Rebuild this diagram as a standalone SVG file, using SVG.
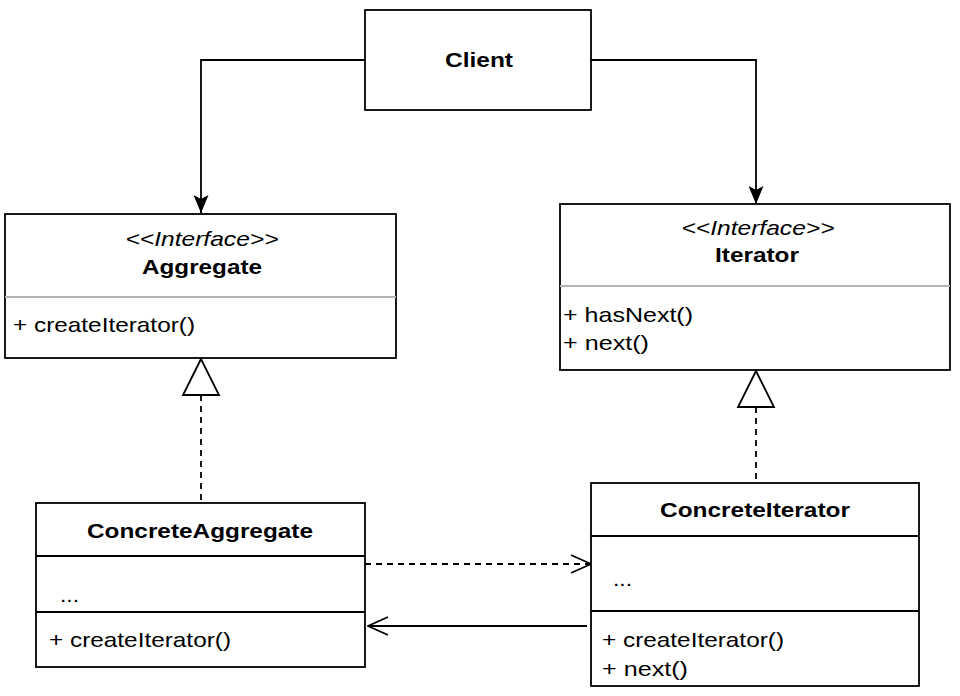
<svg xmlns="http://www.w3.org/2000/svg" width="960" height="696" viewBox="0 0 960 696">
<style>
.box{fill:#fff;stroke:#000;stroke-width:1.8}
.div{stroke:#000;stroke-width:1.8}
.gdiv{stroke:#b3b3b3;stroke-width:2}
text{font-family:"Liberation Sans",Arial,Helvetica,sans-serif;font-size:21px;fill:#000}
.b{font-weight:bold}
.i{font-style:italic}
.c{text-anchor:middle}
.ln{fill:none;stroke:#000;stroke-width:1.8}
.dash{stroke-dasharray:6,5}
</style>
<defs>
<marker id="fill" viewBox="0 0 18 15" refX="18" refY="7.5" markerWidth="18" markerHeight="15" markerUnits="userSpaceOnUse" orient="auto">
<path d="M0,0 L18,7.5 L0,15 L4,7.5 z" fill="#000"/>
</marker>
<marker id="open" viewBox="-1 -1 22 20" refX="20" refY="9" markerWidth="22" markerHeight="20" markerUnits="userSpaceOnUse" orient="auto">
<path d="M0,0 L20,9 L0,18" fill="none" stroke="#000" stroke-width="1.8"/>
</marker>
</defs>

<g id="connectors">
<path class="ln" d="M365,60 H201 V213" marker-end="url(#fill)"/>
<path class="ln" d="M591,60 H756 V204" marker-end="url(#fill)"/>
<path class="ln dash" d="M201,395 V502"/>
<polygon points="201,359 183,395 219,395" fill="#fff" stroke="#000" stroke-width="1.8"/>
<path class="ln dash" d="M756,407 V483"/>
<polygon points="756,371 738,407 774,407" fill="#fff" stroke="#000" stroke-width="1.8"/>
<path class="ln dash" d="M365,564 H591" marker-end="url(#open)"/>
<path class="ln" d="M587,626 H368" marker-end="url(#open)"/>
</g>

<g id="client">
<rect class="box" x="365" y="10" width="226" height="100"/>
<text class="b c" x="479" y="67" textLength="68" lengthAdjust="spacingAndGlyphs">Client</text>
</g>

<g id="aggregate">
<rect class="box" x="5" y="214" width="391" height="144"/>
<line class="gdiv" x1="5" y1="297" x2="396" y2="297"/>
<text class="i c" x="202" y="246" textLength="153" lengthAdjust="spacingAndGlyphs">&lt;&lt;Interface&gt;&gt;</text>
<text class="b c" x="202" y="274" textLength="120" lengthAdjust="spacingAndGlyphs">Aggregate</text>
<text x="13" y="332" textLength="182" lengthAdjust="spacingAndGlyphs">+ createIterator()</text>
</g>

<g id="iterator">
<rect class="box" x="560" y="204" width="390" height="166"/>
<line class="gdiv" x1="560" y1="286" x2="950" y2="286"/>
<text class="i c" x="758" y="235" textLength="153" lengthAdjust="spacingAndGlyphs">&lt;&lt;Interface&gt;&gt;</text>
<text class="b c" x="757" y="262" textLength="84" lengthAdjust="spacingAndGlyphs">Iterator</text>
<text x="563" y="322" textLength="130" lengthAdjust="spacingAndGlyphs">+ hasNext()</text>
<text x="563" y="350" textLength="86" lengthAdjust="spacingAndGlyphs">+ next()</text>
</g>

<g id="concreteAggregate">
<rect class="box" x="36" y="503" width="329" height="164"/>
<line class="div" x1="36" y1="556" x2="365" y2="556"/>
<line class="div" x1="36" y1="612" x2="365" y2="612"/>
<text class="b c" x="200" y="538" textLength="226" lengthAdjust="spacingAndGlyphs">ConcreteAggregate</text>
<text x="60" y="602" textLength="19" lengthAdjust="spacingAndGlyphs">...</text>
<text x="49" y="647" textLength="182" lengthAdjust="spacingAndGlyphs">+ createIterator()</text>
</g>

<g id="concreteIterator">
<rect class="box" x="591" y="483" width="328" height="203"/>
<line class="div" x1="591" y1="536" x2="919" y2="536"/>
<line class="div" x1="591" y1="611" x2="919" y2="611"/>
<text class="b c" x="755" y="517" textLength="190" lengthAdjust="spacingAndGlyphs">ConcreteIterator</text>
<text x="613" y="586" textLength="19" lengthAdjust="spacingAndGlyphs">...</text>
<text x="602" y="647" textLength="182" lengthAdjust="spacingAndGlyphs">+ createIterator()</text>
<text x="602" y="676" textLength="86" lengthAdjust="spacingAndGlyphs">+ next()</text>
</g>
</svg>
